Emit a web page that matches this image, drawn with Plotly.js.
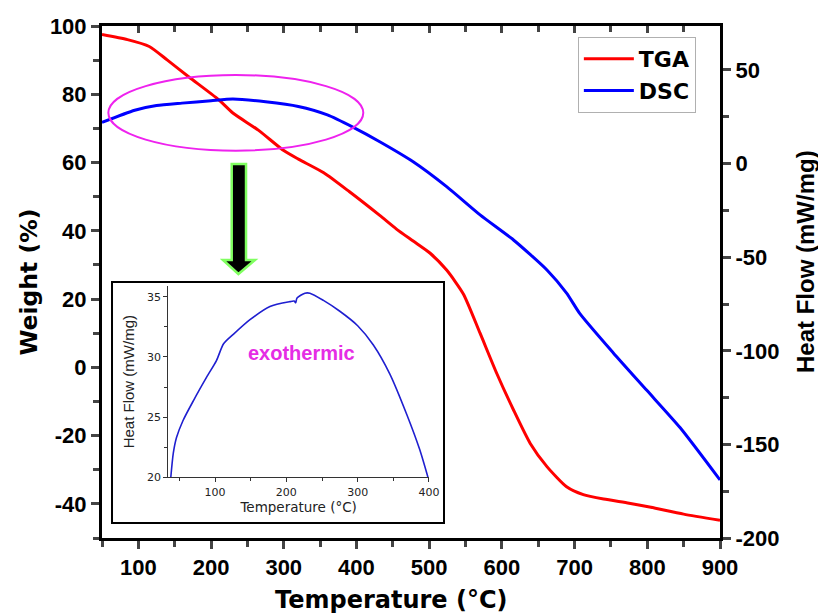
<!DOCTYPE html>
<html>
<head>
<meta charset="utf-8">
<script src="https://cdn.plot.ly/plotly-3.0.1.min.js"></script>
<style>html,body{margin:0;padding:0;background:#fff;}#chart{width:818px;height:616px;}</style>
</head>
<body>
<div id="chart"></div>
<script>
// ---- data ----
var tgaTemp = [50, 85, 115, 140, 170, 210, 230, 265, 300, 320, 355, 390, 432, 455, 478, 501, 524, 547, 570, 593, 616, 639, 662, 689, 712, 740, 775, 805, 850, 900];
var tgaWeight = [97.5, 96, 94, 90, 85, 78.5, 74.5, 69.5, 63.5, 61, 57, 51.5, 44.5, 40.5, 37, 33.5, 28.5, 21.5, 10, -1.8, -12.5, -22.3, -29.1, -35, -37.3, -38.6, -39.8, -41, -43, -44.8];

var dscTemp = [50, 95, 125, 160, 200, 230, 275, 320, 360, 395, 432, 478, 524, 570, 616, 662, 689, 707, 753, 799, 845, 900];
var dscHeat = [22, 28.5, 31, 32.3, 33.6, 34.5, 33, 30.5, 26, 19.5, 11.7, 1, -12.3, -27.4, -40.8, -56.8, -69.2, -80, -101, -121, -141, -169];

var insetTemp = [38, 41.5, 46, 55, 70, 88, 102, 112, 126, 149, 177, 205, 211, 213, 215, 226, 233, 252, 275, 300, 322, 345, 369, 387, 399];
var insetHeat = [20, 22, 23.3, 24.7, 26.4, 28.3, 29.7, 31.1, 31.9, 33.1, 34.2, 34.6, 34.65, 34.5, 34.9, 35.3, 35.3, 34.7, 33.8, 32.6, 31.0, 28.6, 25.2, 22.3, 19.9];

var xTickVals = [100, 200, 300, 400, 500, 600, 700, 800, 900];
var weightTickVals = [-40, -20, 0, 20, 40, 60, 80, 100];
var heatTickVals = [-200, -150, -100, -50, 0, 50];
var seriesNames = ['TGA', 'DSC'];

var BOLD = 'Liberation Sans, Arial, sans-serif';
var WIDE = 'DejaVu Sans, sans-serif';

function hyphenLabels(vals) { return vals.map(function (v) { return String(v); }); }

var traces = [
  {x: tgaTemp, y: tgaWeight, name: seriesNames[0], type: 'scatter', mode: 'lines',
   line: {color: '#ff0000', width: 3, shape: 'spline', smoothing: 0.6}, xaxis: 'x', yaxis: 'y'},
  {x: dscTemp, y: dscHeat, name: seriesNames[1], type: 'scatter', mode: 'lines',
   line: {color: '#0000ff', width: 3, shape: 'spline', smoothing: 0.6}, xaxis: 'x', yaxis: 'y2'},
  // carrier for the top (mirror) axis, invisible
  {x: tgaTemp, y: tgaWeight, type: 'scatter', mode: 'lines', showlegend: false, hoverinfo: 'skip',
   line: {color: 'rgba(0,0,0,0)', width: 0}, xaxis: 'x2', yaxis: 'y'},
  {x: insetTemp, y: insetHeat, type: 'scatter', mode: 'lines', showlegend: false,
   line: {color: '#1f1fd0', width: 1.6, shape: 'spline', smoothing: 0.7}, xaxis: 'x3', yaxis: 'y3'}
];

var tickFont = {family: BOLD, size: 22, color: '#000', weight: 'bold'};

var layout = {
  width: 818, height: 616,
  margin: {l: 102, r: 98, t: 26, b: 78},
  paper_bgcolor: '#ffffff',
  plot_bgcolor: 'rgba(0,0,0,0)',
  showlegend: true,
  legend: {x: 0.770, y: 0.9785, xanchor: 'left', yanchor: 'top',
           bgcolor: '#ffffff', bordercolor: '#b0b0b0', borderwidth: 1,
           font: {family: WIDE, size: 22, color: '#000', weight: 'bold'},
           itemwidth: 50, tracegroupgap: 0},
  xaxis: {range: [50, 900], tickvals: xTickVals, ticks: 'outside', ticklen: 8, tickwidth: 3,
          showline: true, linewidth: 3, linecolor: '#000', showgrid: false, zeroline: false,
          tickfont: tickFont, domain: [0, 1],
          minor: {dtick: 50, tick0: 0, ticks: 'outside', ticklen: 6, tickwidth: 3, showgrid: false}},
  xaxis2: {range: [50, 900], overlaying: 'x', side: 'top', anchor: 'y', tickvals: xTickVals,
           ticks: 'inside', ticklen: 7, tickwidth: 3, showticklabels: false,
           showline: true, linewidth: 3, linecolor: '#000', showgrid: false, zeroline: false,
           minor: {dtick: 50, tick0: 0, ticks: 'inside', ticklen: 6, tickwidth: 3, showgrid: false}},
  yaxis: {range: [-50, 100], tickvals: weightTickVals, ticktext: hyphenLabels(weightTickVals),
          ticks: 'outside', ticklen: 8, tickwidth: 3,
          showline: true, linewidth: 3, linecolor: '#000', showgrid: false, zeroline: false,
          tickfont: tickFont,
          title: {text: 'Weight (%)', standoff: 6, font: {family: WIDE, size: 23.5, color: '#000', weight: 'bold'}},
          minor: {dtick: 10, tick0: 0, ticks: 'outside', ticklen: 6, tickwidth: 3, showgrid: false}},
  yaxis2: {range: [-200, 73.5], tickvals: heatTickVals, ticktext: hyphenLabels(heatTickVals),
           overlaying: 'y', side: 'right', anchor: 'x',
           ticks: 'outside', ticklen: 8, tickwidth: 3,
           showline: true, linewidth: 3, linecolor: '#000', showgrid: false, zeroline: false,
           tickfont: tickFont,
           minor: {dtick: 25, tick0: 0, ticks: 'outside', ticklen: 6, tickwidth: 3, showgrid: false}},
  xaxis3: {domain: [0.1073, 0.5291], anchor: 'y3', range: [34.5, 400], dtick: 100, tick0: 0,
           ticks: 'outside', ticklen: 4, tickwidth: 1, tickcolor: '#333',
           showline: true, linewidth: 1.2, linecolor: '#333', showgrid: false, zeroline: false,
           tickfont: {family: WIDE, size: 11, color: '#222'},
           title: {text: 'Temperature (°C)', standoff: 4, font: {family: WIDE, size: 13.5, color: '#222'}},
           minor: {dtick: 50, tick0: 0, ticks: 'outside', ticklen: 3, tickwidth: 1, tickcolor: '#333', showgrid: false}},
  yaxis3: {domain: [0.1186, 0.4922], anchor: 'x3', range: [20, 35.9], dtick: 5, tick0: 0,
           ticks: 'outside', ticklen: 4, tickwidth: 1, tickcolor: '#333',
           showline: true, linewidth: 1.2, linecolor: '#333', showgrid: false, zeroline: false,
           tickfont: {family: WIDE, size: 11, color: '#222'},
           title: {text: 'Heat Flow (mW/mg)', standoff: 8, font: {family: BOLD, size: 15, color: '#222'}},
           minor: {dtick: 2.5, tick0: 0, ticks: 'outside', ticklen: 3, tickwidth: 1, tickcolor: '#333', showgrid: false}},
  shapes: [
    {type: 'rect', xref: 'paper', yref: 'paper', x0: 0.0162, x1: 0.5534, y0: 0.0293, y1: 0.5,
     line: {color: '#000', width: 2}, fillcolor: '#ffffff', layer: 'below'},
    {type: 'circle', xref: 'x', yref: 'y', x0: 58.7, x1: 409.4, y0: 63.47, y1: 85.64,
     line: {color: '#ee22ee', width: 2}},
    {type: 'path', xref: 'x', yref: 'y',
     path: 'M228.4,59.57 L248.1,59.57 L248.1,31.44 L260.4,31.44 L237.6,27.34 L216.4,31.44 L228.4,31.44 Z',
     fillcolor: '#000000', line: {color: '#80ff60', width: 2.5}}
  ],
  annotations: [
    {text: 'Temperature (°C)', xref: 'paper', yref: 'paper', x: (391 - 102) / 618, y: (538 - 600) / 512,
     xanchor: 'center', yanchor: 'middle', showarrow: false,
     font: {family: WIDE, size: 24, color: '#000', weight: 'bold'}},
    {text: 'Heat Flow (mW/mg)', xref: 'paper', yref: 'paper', x: (805 - 102) / 618, y: (538 - 262) / 512,
     xanchor: 'center', yanchor: 'middle', textangle: -90, showarrow: false,
     font: {family: BOLD, size: 24, color: '#000', weight: 'bold'}},
    {text: 'exothermic', xref: 'x3', yref: 'y3', x: 221, y: 30.3, showarrow: false,
     xanchor: 'center', yanchor: 'middle',
     font: {family: BOLD, size: 20, color: '#e52de5', weight: 'bold'}}
  ]
};

Plotly.newPlot('chart', traces, layout, {displayModeBar: false, staticPlot: true});
</script>
</body>
</html>
